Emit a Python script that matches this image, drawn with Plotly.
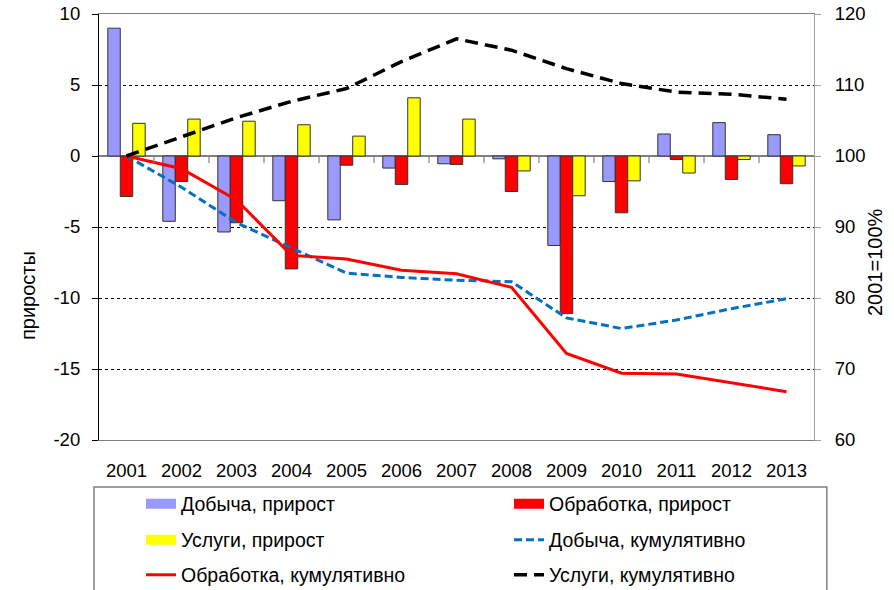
import plotly.graph_objects as go

years = ["2001", "2002", "2003", "2004", "2005", "2006", "2007",
         "2008", "2009", "2010", "2011", "2012", "2013"]

# annual growth, % (left axis)
mining_growth = [9.0, -4.6, -5.35, -3.15, -4.5, -0.85, -0.55, -0.2, -6.3, -1.8, 1.55, 2.35, 1.5]
manuf_growth = [-2.85, -1.8, -4.7, -7.95, -0.65, -2.0, -0.6, -2.5, -11.1, -4.0, -0.25, -1.65, -1.95]
services_growth = [2.3, 2.6, 2.45, 2.2, 1.4, 4.1, 2.6, -1.05, -2.8, -1.75, -1.2, -0.25, -0.7]

# cumulative index, 2001=100 (right axis)
mining_cum = [100, 95.6, 90.6, 87.0, 83.5, 82.9, 82.5, 82.3, 77.2, 75.7, 76.9, 78.5, 79.9]
manuf_cum = [100, 98.2, 93.8, 86.0, 85.5, 83.9, 83.4, 81.5, 72.2, 69.4, 69.3, 68.1, 66.8]
services_cum = [100, 102.7, 105.4, 107.7, 109.5, 113.3, 116.5, 114.9, 112.3, 110.2, 109.0, 108.7, 108.0]

# tick labels
left_ticks = [10, 5, 0, -5, -10, -15, -20]
left_ticktext = ["10", "5", "0", "-5", "-10", "-15", "-20"]
right_ticks = [120, 110, 100, 90, 80, 70, 60]
right_ticktext = ["120", "110", "100", "90", "80", "70", "60"]

FONT = "Liberation Sans, Arial, sans-serif"

BLUE_BAR, RED, YELLOW = "#9999FF", "#FF0000", "#FFFF00"

fig = go.Figure()
bar_line = dict(color="#333333", width=1)
fig.add_trace(go.Bar(x=years, y=mining_growth, name="Добыча, прирост",
                     marker=dict(color=BLUE_BAR, line=bar_line), showlegend=False))
fig.add_trace(go.Bar(x=years, y=manuf_growth, name="Обработка, прирост",
                     marker=dict(color=RED, line=bar_line), showlegend=False))
fig.add_trace(go.Bar(x=years, y=services_growth, name="Услуги, прирост",
                     marker=dict(color=YELLOW, line=bar_line), showlegend=False))
fig.add_trace(go.Scatter(x=years, y=mining_cum, name="Добыча, кумулятивно", yaxis="y2",
                         mode="lines", line=dict(color="#0070C0", width=3, dash="8px,4px"),
                         legend="legend4"))
fig.add_trace(go.Scatter(x=years, y=manuf_cum, name="Обработка, кумулятивно", yaxis="y2",
                         mode="lines", line=dict(color=RED, width=3),
                         legend="legend5"))
fig.add_trace(go.Scatter(x=years, y=services_cum, name="Услуги, кумулятивно", yaxis="y2",
                         mode="lines", line=dict(color="#000000", width=3.5, dash="13px,7px"),
                         legend="legend6"))

# legend-only entries giving the bar series a wide rectangular key
for name, col, leg in [("Добыча, прирост", BLUE_BAR, "legend"),
                       ("Обработка, прирост", RED, "legend2"),
                       ("Услуги, прирост", YELLOW, "legend3")]:
    fig.add_trace(go.Scatter(x=[None], y=[None], name=name, mode="lines",
                             line=dict(color=col, width=10), legend=leg,
                             hoverinfo="skip"))

# tick marks on the zero line at category boundaries
shapes = []
for i in range(len(years) - 1):
    shapes.append(dict(type="line", xref="x", yref="y", x0=i + 0.5, x1=i + 0.5,
                       ysizemode="pixel", yanchor=0, y0=0, y1=-7,
                       line=dict(color="#808080", width=1.2)))
# legend frame
shapes.append(dict(type="rect", xref="paper", yref="paper",
                   x0=-0.007, x1=1.018, y0=-0.1103, y1=-0.40,
                   line=dict(color="#808080", width=1.5), fillcolor="rgba(0,0,0,0)"))

leg_common = dict(orientation="h", xanchor="left", yanchor="middle",
                  font=dict(family=FONT, size=19.5, color="#000000"),
                  bgcolor="rgba(0,0,0,0)", borderwidth=0)
col1_x = (141 - 99) / 715
col2_x = (509 - 99) / 715
row_y = [-0.1502, -0.2347, -0.3169]

fig.update_layout(
    width=894, height=590,
    margin=dict(l=99, r=80, t=14, b=150, autoexpand=False),
    paper_bgcolor="white", plot_bgcolor="white",
    font=dict(family=FONT, size=18.5, color="#000000"),
    barmode="group", bargap=0.32, bargroupgap=0,
    xaxis=dict(type="category", categoryorder="array", categoryarray=years,
               showline=True, linecolor="#808080", linewidth=1.2, mirror=True,
               showgrid=False, ticks="", ticklabelstandoff=14,
               tickfont=dict(size=18.5)),
    yaxis=dict(range=[-20, 10], tickmode="array", tickvals=left_ticks,
               ticktext=left_ticktext, showgrid=True,
               gridcolor="#000000", griddash="dot", gridwidth=1,
               zeroline=True, zerolinecolor="#808080", zerolinewidth=1.5,
               showline=True, linecolor="#000000", linewidth=1.2,
               ticks="outside", ticklen=6, tickcolor="#000000",
               ticklabelstandoff=8, tickfont=dict(size=18.5)),
    yaxis2=dict(range=[60, 120], tickmode="array", tickvals=right_ticks,
                ticktext=right_ticktext, overlaying="y", side="right",
                showgrid=False, zeroline=False,
                showline=True, linecolor="#A0A0A0", linewidth=1.2,
                ticks="outside", ticklen=6, tickcolor="#A0A0A0",
                ticklabelstandoff=10, tickfont=dict(size=18.5)),
    legend=dict(leg_common, x=col1_x, y=row_y[0]),
    legend2=dict(leg_common, x=col2_x, y=row_y[0]),
    legend3=dict(leg_common, x=col1_x, y=row_y[1]),
    legend4=dict(leg_common, x=col2_x, y=row_y[1]),
    legend5=dict(leg_common, x=col1_x, y=row_y[2]),
    legend6=dict(leg_common, x=col2_x, y=row_y[2]),
    shapes=shapes,
    annotations=[
        dict(text="приросты", xref="paper", yref="paper",
             x=(28 - 99) / 715, y=(440 - 296) / 426, textangle=-90,
             showarrow=False, xanchor="center", yanchor="middle",
             font=dict(family=FONT, size=20, color="#000000")),
        dict(text="2001=100%", xref="paper", yref="paper",
             x=(875 - 99) / 715, y=(440 - 262) / 426, textangle=-90,
             showarrow=False, xanchor="center", yanchor="middle",
             font=dict(family=FONT, size=20, color="#000000")),
    ],
    showlegend=True,
)

# remove the default page margin so the 894x590 figure fills the window exactly
fig.write_html("out.html",
               config={"displayModeBar": False},
               post_script="document.body.style.margin='0px';document.body.style.overflow='hidden';")
